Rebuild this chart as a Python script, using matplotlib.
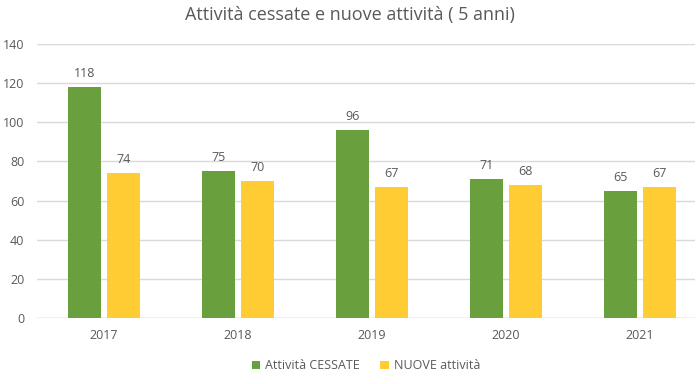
import matplotlib.pyplot as plt
import numpy as np

anni = ["2017", "2018", "2019", "2020", "2021"]
cessate = [118, 75, 96, 71, 65]
nuove = [74, 70, 67, 68, 67]

plt.rcParams['font.family'] = ['Open Sans', 'DejaVu Sans']

verde = "#6A9F3E"
giallo = "#FFCD33"
grigio = "#595959"

fig = plt.figure(figsize=(7, 3.84), dpi=100)
ax = fig.add_axes([37 / 700, 1 - 318 / 384, 658 / 700, 274 / 384])

x = np.arange(len(anni))
w = 0.24
off = 0.146
b1 = ax.bar(x - off, cessate, w, color=verde, label="Attività CESSATE", zorder=3)
b2 = ax.bar(x + off, nuove, w, color=giallo, label="NUOVE attività", zorder=3)

for bars in (b1, b2):
    ax.bar_label(bars, padding=5, fontsize=9, color=grigio)

ax.set_ylim(0, 140)
ax.set_yticks(range(0, 141, 20))
ax.set_xlim(-0.5, 4.5 - 12 / 134)
ax.set_xticks(x)
ax.set_xticklabels(anni)
ax.yaxis.grid(True, color="#D9D9D9", linewidth=1, zorder=0)
for s in ax.spines.values():
    s.set_visible(False)
ax.axhline(0, color="#D9D9D9", linewidth=1, zorder=2)
ax.tick_params(axis="both", length=0, labelsize=9, colors=grigio)
ax.tick_params(axis="y", pad=9)
ax.tick_params(axis="x", pad=8)

fig.suptitle("Attività cessate e nuove attività ( 5 anni)", y=0.985, fontsize=13, color=grigio)
ax.legend(loc="upper center", bbox_to_anchor=(0.5, -0.11), ncol=2, frameon=False,
          fontsize=9, labelcolor=grigio, handlelength=0.7, handleheight=0.7,
          handletextpad=0.4, columnspacing=1.6)

fig.savefig("out.png")
